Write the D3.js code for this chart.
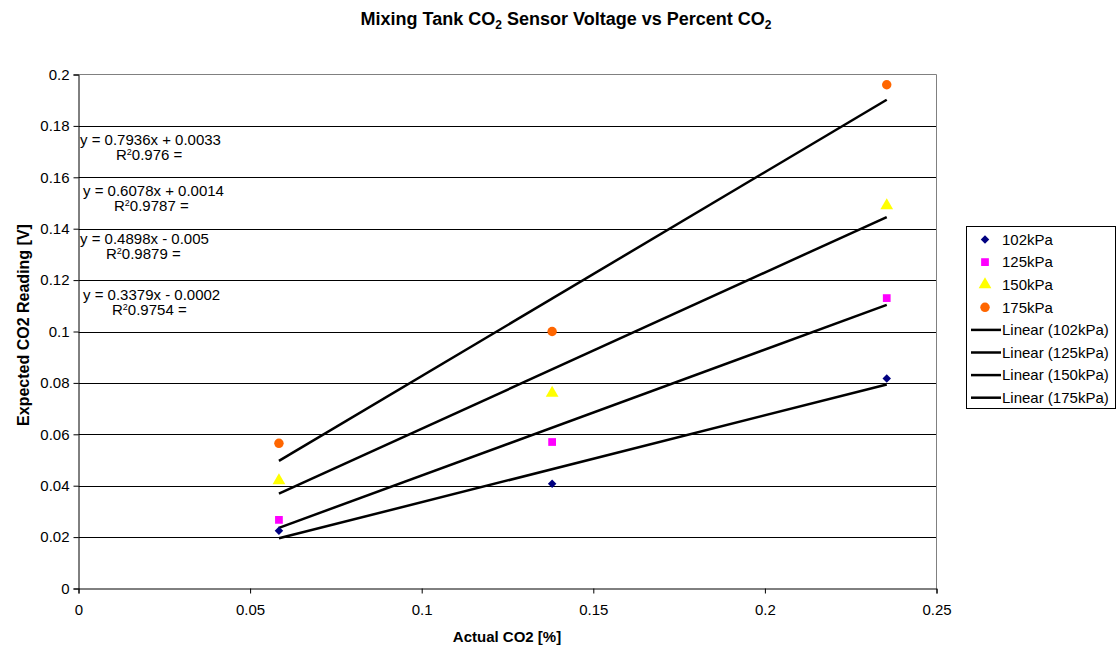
<!DOCTYPE html>
<html>
<head>
<meta charset="utf-8">
<script src="https://cdn.jsdelivr.net/npm/d3@7"></script>
<style>
  body { margin: 0; background: #fff; }
  text { font-family: "Liberation Sans", Arial, sans-serif; }
</style>
</head>
<body>
<div id="chart"></div>
<script>
(() => {
  const width = 1116;
  const height = 647;

  // data
  const seriesNames = ["102kPa", "125kPa", "150kPa", "175kPa"];
  const actualCO2 = [0.0584, 0.138, 0.2355];
  const reading102 = [0.0225, 0.0408, 0.0817];
  const reading125 = [0.0267, 0.0570, 0.1130];
  const reading150 = [0.0420, 0.0760, 0.1490];
  const reading175 = [0.0565, 0.1000, 0.1960];
  const slopes = [0.3379, 0.4898, 0.6078, 0.7936];
  const intercepts = [-0.0002, -0.005, 0.0014, 0.0033];
  const rSquared = ["0.9754", "0.9879", "0.9787", "0.976"];
  const xTicks = [0, 0.05, 0.1, 0.15, 0.2, 0.25];
  const yTicks = [0, 0.02, 0.04, 0.06, 0.08, 0.1, 0.12, 0.14, 0.16, 0.18, 0.2];

  const readings = [reading102, reading125, reading150, reading175];
  const colors = ["#000080", "#ff00ff", "#ffff00", "#ff6600"];
  // diamond = square turned 45 degrees, like Excel's marker
  const shapes = [d3.symbolSquare, d3.symbolSquare, d3.symbolTriangle, d3.symbolCircle];
  const rotations = [45, 0, 0, 0];
  const sizes = [36, 60, 70, 70];

  const margin = { left: 78.5, right: 936.5, top: 74.5, bottom: 588.5 };

  const x = d3.scaleLinear().domain([0, 0.25]).range([margin.left, margin.right]);
  const y = d3.scaleLinear().domain([0, 0.2]).range([margin.bottom, margin.top]);

  const svg = d3.select("#chart").append("svg")
    .attr("width", width)
    .attr("height", height)
    .style("display", "block");

  // title with subscripts
  const title = svg.append("text")
    .attr("x", 566)
    .attr("y", 25)
    .attr("text-anchor", "middle")
    .attr("font-size", 18)
    .attr("font-weight", "bold");
  title.append("tspan").text("Mixing Tank CO");
  title.append("tspan").attr("font-size", 12).attr("dy", 4).text("2");
  title.append("tspan").attr("dy", -4).text(" Sensor Voltage vs Percent CO");
  title.append("tspan").attr("font-size", 12).attr("dy", 4).text("2");

  // gridlines
  svg.append("g")
    .selectAll("line")
    .data(yTicks.filter(d => d > 0 && d < 0.2))
    .join("line")
    .attr("x1", margin.left).attr("x2", margin.right)
    .attr("y1", d => Math.round(y(d)) + 0.5).attr("y2", d => Math.round(y(d)) + 0.5)
    .attr("stroke", "#000");

  // plot border (top / right grey)
  svg.append("path")
    .attr("d", `M${margin.left},${margin.top}H${margin.right}V${margin.bottom}`)
    .attr("fill", "none")
    .attr("stroke", "#808080");

  // axes
  const xAxis = svg.append("g")
    .attr("transform", `translate(0,${margin.bottom})`)
    .call(d3.axisBottom(x).tickValues(xTicks).tickSize(5).tickPadding(11)
      .tickFormat(d => d3.format("~g")(d)));
  const yAxis = svg.append("g")
    .attr("transform", `translate(${margin.left},0)`)
    .call(d3.axisLeft(y).tickValues(yTicks).tickSize(5).tickPadding(4)
      .tickFormat(d => d3.format("~g")(d)));
  [xAxis, yAxis].forEach(a => {
    a.select(".domain").attr("stroke", "#000");
    a.selectAll(".tick line").attr("stroke", "#000");
    a.selectAll("text").attr("font-size", 15).attr("fill", "#000")
      .style("font-family", '"Liberation Sans", Arial, sans-serif');
  });

  svg.append("text")
    .attr("x", 507).attr("y", 642)
    .attr("text-anchor", "middle")
    .attr("font-size", 15).attr("font-weight", "bold")
    .text("Actual CO2 [%]");

  svg.append("text")
    .attr("transform", "translate(29,325) rotate(-90)")
    .attr("text-anchor", "middle")
    .attr("font-size", 16).attr("font-weight", "bold")
    .text("Expected CO2 Reading [V]");

  // trend lines
  const xmin = d3.min(actualCO2), xmax = d3.max(actualCO2);
  svg.append("g")
    .selectAll("line")
    .data(slopes.map((m, i) => ({ m, b: intercepts[i] })))
    .join("line")
    .attr("x1", x(xmin)).attr("x2", x(xmax))
    .attr("y1", d => y(d.m * xmin + d.b))
    .attr("y2", d => y(d.m * xmax + d.b))
    .attr("stroke", "#000")
    .attr("stroke-width", 2.5);

  // markers
  readings.forEach((vals, i) => {
    svg.append("g")
      .selectAll("path")
      .data(vals.map((v, j) => [actualCO2[j], v]))
      .join("path")
      .attr("transform", d => `translate(${x(d[0])},${y(d[1])}) rotate(${rotations[i]})`)
      .attr("d", d3.symbol().type(shapes[i]).size(sizes[i]))
      .attr("fill", colors[i]);
  });

  // equation labels (Excel default placement, top-down 175 -> 102)
  const labelPos = [
    { x: 83, y: 300, rx: 112 },
    { x: 80, y: 244, rx: 106 },
    { x: 83, y: 196, rx: 114 },
    { x: 80, y: 145, rx: 116 }
  ];
  slopes.forEach((m, i) => {
    const p = labelPos[i];
    const b = intercepts[i];
    const eq = `y = ${m}x ${b < 0 ? "-" : "+"} ${Math.abs(b)}`;
    svg.append("text")
      .attr("x", p.x).attr("y", p.y)
      .attr("font-size", 15)
      .text(eq);
    const r = svg.append("text")
      .attr("x", p.rx).attr("y", p.y + 14.5)
      .attr("font-size", 15);
    r.append("tspan").text("R");
    r.append("tspan").attr("font-size", 9).attr("dy", -5).text("2");
    r.append("tspan").attr("dy", 5).text(rSquared[i] + " =");
  });

  // legend
  const lg = svg.append("g");
  lg.append("rect")
    .attr("x", 966.5).attr("y", 226.5)
    .attr("width", 149).attr("height", 182)
    .attr("fill", "#fff").attr("stroke", "#000");
  const rowY = i => 239.5 + i * 22.6;
  seriesNames.forEach((name, i) => {
    lg.append("path")
      .attr("transform", `translate(985,${rowY(i)}) rotate(${rotations[i]})`)
      .attr("d", d3.symbol().type(shapes[i]).size(sizes[i]))
      .attr("fill", colors[i]);
    lg.append("text")
      .attr("x", 1002).attr("y", rowY(i)).attr("dy", "0.35em")
      .attr("font-size", 15).text(name);
  });
  seriesNames.forEach((name, i) => {
    const yy = rowY(i + 4);
    lg.append("line")
      .attr("x1", 971).attr("x2", 1001)
      .attr("y1", yy).attr("y2", yy)
      .attr("stroke", "#000").attr("stroke-width", 2.5);
    lg.append("text")
      .attr("x", 1002).attr("y", yy).attr("dy", "0.35em")
      .attr("font-size", 15).text(`Linear (${name})`);
  });
})();
</script>
</body>
</html>
